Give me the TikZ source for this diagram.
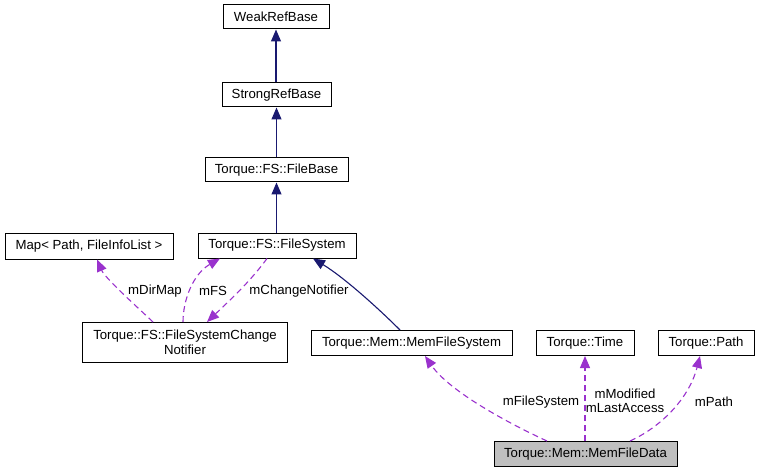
\documentclass[tikz,border=0pt]{standalone}
\usepackage{fontspec}
\setmainfont{Liberation Sans}
\usetikzlibrary{arrows.meta}
\definecolor{navyedge}{HTML}{191970}
\definecolor{depedge}{HTML}{9A32CD}
\definecolor{curfill}{HTML}{BFBFBF}
\tikzset{
  box/.style={draw=black, line width=1pt, rectangle, inner sep=0pt, align=center, font=\fontsize{13.2}{14.5}\selectfont, fill=white},
  inh/.style={draw=navyedge, line width=1.1pt, -{Triangle[length=12pt,width=10pt]}},
  dep/.style={draw=depedge, line width=1.1pt, dash pattern=on 6pt off 4pt, -{Triangle[length=12pt,width=10pt,sep=0pt]}},
  lbl/.style={font=\fontsize{13.2}{14.5}\selectfont, inner sep=0pt, align=center}
}
\begin{document}
\begin{tikzpicture}[x=1pt,y=-1pt]
\useasboundingbox (0,0) rectangle (760,473);
\node[box, minimum width=106pt, minimum height=24pt] (weak) at (276,17) {WeakRefBase};
\node[box, minimum width=109pt, minimum height=24pt] (strong) at (276.5,95) {StrongRefBase};
\node[box, minimum width=143pt, minimum height=24pt] (filebase) at (276.5,170) {Torque::FS::FileBase};
\node[box, minimum width=158pt, minimum height=25pt] (filesystem) at (277,245.5) {Torque::FS::FileSystem};
\node[box, minimum width=168pt, minimum height=26pt] (map) at (89,246) {Map< Path, FileInfoList >};
\node[box, minimum width=205pt, minimum height=40pt] (notifier) at (185,342.5) {Torque::FS::FileSystemChange\\Notifier};
\node[box, minimum width=201pt, minimum height=25pt] (memfs) at (411.5,343) {Torque::Mem::MemFileSystem};
\node[box, minimum width=98pt, minimum height=25pt] (time) at (585,343) {Torque::Time};
\node[box, minimum width=96pt, minimum height=25pt] (path) at (706,343) {Torque::Path};
\node[box, minimum width=183pt, minimum height=25pt, fill=curfill] (data) at (585.5,454) {Torque::Mem::MemFileData};

% inheritance
\draw[inh] (strong.north -| weak.south) -- (weak.south);
\draw[inh] (filebase.north -| strong.south) -- (strong.south);
\draw[inh] (filesystem.north -| filebase.south) -- (filebase.south);
\draw[inh] ([xshift=-11.5pt]memfs.north) .. controls (380,310) and (345,278) .. ([xshift=36pt]filesystem.south);

% dependencies
\draw[dep] ([xshift=-32pt]notifier.north) .. controls (135,305) and (105,278) .. ([xshift=8pt]map.south);
\draw[dep] ([xshift=-2pt]notifier.north) .. controls (183,300) and (193,274) .. ([xshift=-57pt]filesystem.south);
\draw[dep] ([xshift=-10pt]filesystem.south) .. controls (250,282) and (228,302) .. ([xshift=22pt]notifier.north);
\draw[dep] ([xshift=-38.5pt]data.north) .. controls (510,424) and (450,392) .. ([xshift=13.5pt]memfs.south);
\draw[dep] (data.north -| time.south) -- (time.south);
\draw[dep] ([xshift=44.5pt]data.north) .. controls (665,425) and (690,395) .. ([xshift=-6pt]path.south);

% labels
\node[lbl] (ldirmap) at (155,291) {mDirMap};
\node[lbl] (lfs) at (213,291) {mFS};
\node[lbl] (lchange) at (299,291) {mChangeNotifier};
\node[lbl] (lfsys) at (541,402) {mFileSystem};
\node[lbl] (ltime) at (625,401) {mModified\\mLastAccess};
\node[lbl] (lpath) at (714,402) {mPath};
\end{tikzpicture}
\end{document}
